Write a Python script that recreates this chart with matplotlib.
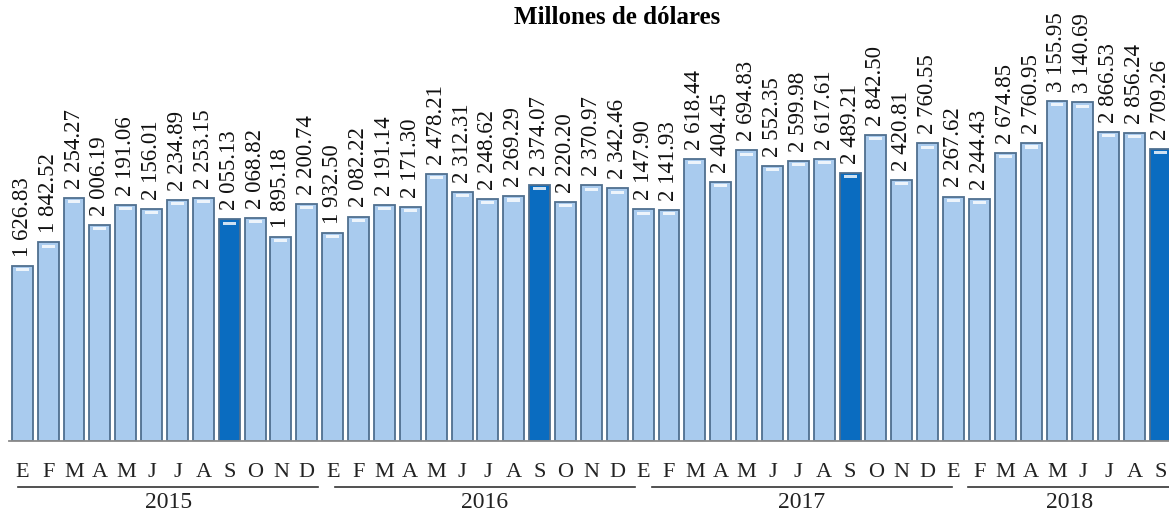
import numpy as np
import matplotlib.pyplot as plt
import matplotlib.transforms as mtransforms

plt.rcParams['font.family'] = ['Liberation Serif', 'DejaVu Serif']

# datos mensuales, millones de dólares
years = ['2015', '2016', '2017', '2018']
months_per_year = [12, 12, 12, 9]
month_letters = ['E', 'F', 'M', 'A', 'M', 'J', 'J', 'A', 'S', 'O', 'N', 'D']

v2015 = [1626.83, 1842.52, 2254.27, 2006.19, 2191.06, 2156.01,
         2234.89, 2253.15, 2055.13, 2068.82, 1895.18, 2200.74]
v2016 = [1932.50, 2082.22, 2191.14, 2171.30, 2478.21, 2312.31,
         2248.62, 2269.29, 2374.07, 2220.20, 2370.97, 2342.46]
v2017 = [2147.90, 2141.93, 2618.44, 2404.45, 2694.83, 2552.35,
         2599.98, 2617.61, 2489.21, 2842.50, 2420.81, 2760.55]
v2018 = [2267.62, 2244.43, 2674.85, 2760.95, 3155.95, 3140.69,
         2866.53, 2856.24, 2709.26]

values = np.array(v2015 + v2016 + v2017 + v2018)
labels = [month_letters[m] for n in months_per_year for m in range(n)]
x = np.arange(len(values))

light = '#a9cbee'
dark = '#0a6cc0'
colors = [dark if lab == 'S' else light for lab in labels]

fig = plt.figure(figsize=(11.69, 5.16), dpi=100)
ax = fig.add_axes([0.008, 0.1453, 0.992, 0.816])

ax.bar(x, values, width=0.81, color=colors, edgecolor='#4f6f8f', linewidth=1.3, zorder=2)
# brillo blanco cerca del borde superior
ax.bar(x, 30, bottom=values - 50, width=0.5, color='white', alpha=0.8,
       linewidth=0, zorder=3)

for xi, v in zip(x, values):
    txt = f'{v:,.2f}'.replace(',', ' ')
    ax.annotate(txt, (xi, v), xytext=(0, 6.5), textcoords='offset points',
                rotation=90, ha='center', va='bottom', fontsize=16.5, color='#111111')

ax.set_xlim(-0.5, 44.33)
ax.set_ylim(0, 3905)
ax.set_xticks(x)
ax.set_xticklabels(labels, fontsize=16, color='#222222')
ax.tick_params(axis='x', length=0, pad=15.5)
ax.set_yticks([])
for s in ['top', 'right', 'left']:
    ax.spines[s].set_visible(False)
ax.spines['bottom'].set_color('#8a8a8a')
ax.spines['bottom'].set_linewidth(1.3)

# líneas y etiquetas de años
trans = mtransforms.blended_transform_factory(ax.transData, ax.transAxes)
start = 0
for yr, n in zip(years, months_per_year):
    x0 = start - 0.15 + 0.02 * start
    x1 = start + n - 1 + 0.45 + 0.02 * start
    if n < 12:
        x1 = 44.4
    ax.plot([x0, x1], [-0.109, -0.109], color='#333333', lw=1.2,
            transform=trans, clip_on=False)
    ax.text((x0 + x1) / 2, -0.147, yr, transform=trans, ha='center', va='center',
            fontsize=17, color='#222222')
    start += n

fig.text(0.528, 1 - 18 / 516, 'Millones de dólares', ha='center', va='center',
         fontsize=18, fontweight='bold')

fig.savefig('out.png', dpi=100)
